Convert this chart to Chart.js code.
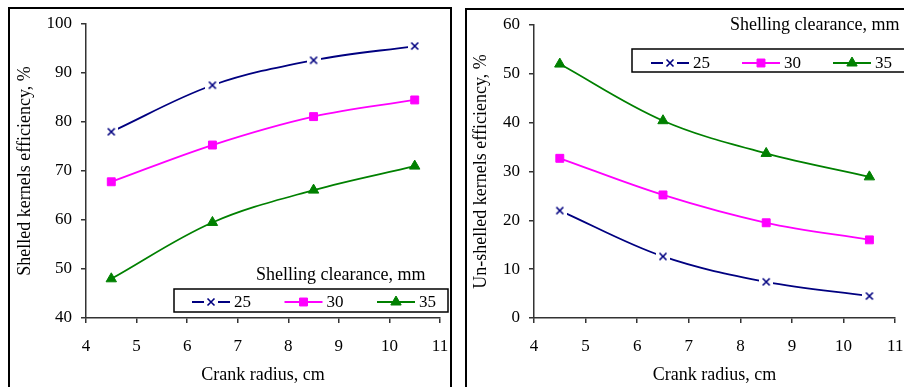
<!DOCTYPE html>
<html>
<head>
<meta charset="utf-8">
<script src="https://cdn.jsdelivr.net/npm/chart.js@4/dist/chart.umd.min.js"></script>
<style>
  html, body { margin: 0; padding: 0; background: #fff; }
  body { width: 904px; height: 387px; overflow: hidden; position: relative; }
  .panel { position: absolute; border: 2px solid #000; box-sizing: border-box; }
  canvas { position: absolute; left: 0; top: 0; }
</style>
</head>
<body>
<div class="panel" style="left:8px;top:7px;width:444px;height:400px"></div>
<div class="panel" style="left:465px;top:8px;width:460px;height:400px"></div>
<div style="position:absolute;left:8px;top:7px;width:443px;height:380px"><canvas id="shelled" width="443" height="380"></canvas></div>
<div style="position:absolute;left:465px;top:8px;width:439px;height:379px"><canvas id="unshelled" width="439" height="379"></canvas></div>

<script>
// Crank radius (cm) at which each clearance was tested
const crankRadius = [4.5, 6.5, 8.5, 10.5];
// Shelling clearance, mm
const clearances = ['25', '30', '35'];

// Shelled kernels efficiency, %
const shelled25 = [78.0, 87.5, 92.6, 95.5];
const shelled30 = [67.8, 75.3, 81.1, 84.5];
const shelled35 = [48.0, 59.5, 66.1, 71.0];

// Un-shelled kernels efficiency, %
const unshelled25 = [22.0, 12.6, 7.4, 4.5];
const unshelled30 = [32.7, 25.2, 19.5, 16.0];
const unshelled35 = [52.0, 40.4, 33.7, 28.9];

// Axis ticks
const radiusTicks = [4, 5, 6, 7, 8, 9, 10, 11];
const shelledTicks = [40, 50, 60, 70, 80, 90, 100];
const unshelledTicks = [0, 10, 20, 30, 40, 50, 60];

const NAVY = '#000080', MAGENTA = '#FF00FF', GREEN = '#008000';
const FAMILY = '"Liberation Serif", "Times New Roman", serif';
const tickFont = { family: FAMILY, size: 17 };
const titleFont = { family: FAMILY, size: 18 };

// "x" marker on a white square so the line stops short of it
function crossMarker() {
  const c = document.createElement('canvas');
  c.width = 14; c.height = 14;
  const g = c.getContext('2d');
  g.fillStyle = '#fff';
  g.fillRect(0, 0, 14, 14);
  g.strokeStyle = NAVY;
  g.lineWidth = 1.6;
  g.beginPath();
  g.moveTo(3.5, 3.5); g.lineTo(10.5, 10.5);
  g.moveTo(10.5, 3.5); g.lineTo(3.5, 10.5);
  g.stroke();
  return c;
}
const xMark = crossMarker();

function points(values) {
  return crankRadius.map((x, i) => ({ x, y: values[i] }));
}

function datasets(v25, v30, v35) {
  const common = { borderWidth: 1.8, tension: 0.35, fill: false };
  return [
    Object.assign({ label: clearances[0], data: points(v25), borderColor: NAVY, backgroundColor: NAVY,
      pointStyle: xMark, pointRadius: 7 }, common),
    Object.assign({ label: clearances[1], data: points(v30), borderColor: MAGENTA, backgroundColor: MAGENTA,
      pointStyle: 'rect', pointRadius: 5.6, pointBorderWidth: 1 }, common),
    Object.assign({ label: clearances[2], data: points(v35), borderColor: GREEN, backgroundColor: GREEN,
      pointStyle: 'triangle', pointRadius: 6, pointBorderWidth: 1 }, common)
  ];
}

function drawMarker(ctx, ds, x, y) {
  const st = ds.pointStyle;
  ctx.save();
  ctx.fillStyle = ds.backgroundColor;
  ctx.strokeStyle = ds.borderColor;
  ctx.lineWidth = 1;
  if (st instanceof HTMLCanvasElement) {
    ctx.drawImage(st, x - st.width / 2, y - st.height / 2);
  } else if (st === 'rect') {
    const s = ds.pointRadius * Math.SQRT1_2;
    ctx.beginPath(); ctx.rect(x - s, y - s, 2 * s, 2 * s); ctx.fill(); ctx.stroke();
  } else if (st === 'triangle') {
    const r = ds.pointRadius;
    ctx.beginPath();
    for (let k = 0; k < 3; k++) {
      const a = k * 2 * Math.PI / 3;
      const px = x + Math.sin(a) * r, py = y - Math.cos(a) * r;
      if (k === 0) ctx.moveTo(px, py); else ctx.lineTo(px, py);
    }
    ctx.closePath(); ctx.fill(); ctx.stroke();
  }
  ctx.restore();
}

// Framed legend with its heading above it
const boxLegend = {
  id: 'boxLegend',
  afterDraw(chart, args, o) {
    const ctx = chart.ctx;
    ctx.save();
    ctx.fillStyle = '#000';
    ctx.textBaseline = 'middle';
    ctx.textAlign = 'left';
    ctx.font = '18px ' + FAMILY;
    ctx.fillText(o.title, o.titleX, o.titleY);
    ctx.strokeStyle = '#000';
    ctx.lineWidth = 1.5;
    ctx.strokeRect(o.x, o.y, o.w, o.h);
    ctx.font = '17px ' + FAMILY;
    chart.data.datasets.forEach((ds, i) => {
      const sx = o.itemX + i * o.itemGap, cy = o.itemY;
      ctx.strokeStyle = ds.borderColor;
      ctx.lineWidth = ds.borderWidth;
      ctx.beginPath(); ctx.moveTo(sx, cy); ctx.lineTo(sx + 38, cy); ctx.stroke();
      drawMarker(ctx, ds, sx + 19, cy);
      ctx.fillStyle = '#000';
      ctx.fillText(ds.label, sx + 42, cy + 1);
    });
    ctx.restore();
  }
};

function xAxis(height) {
  return {
    type: 'linear', min: 4, max: 11,
    afterBuildTicks: s => { s.ticks = radiusTicks.map(v => ({ value: v })); },
    // fixed axis band; end labels may overhang the plot edges
    afterFit: s => { s.height = height; s.paddingLeft = 0; s.paddingRight = 0; },
    grid: { drawOnChartArea: false, drawTicks: true, tickLength: 5, color: '#333', lineWidth: 1.5 },
    border: { display: true, color: '#333', width: 1.5 },
    ticks: { font: tickFont, color: '#000', padding: 13, maxRotation: 0, autoSkip: false },
    title: { display: true, text: 'Crank radius, cm', font: titleFont, color: '#000', padding: { top: 0, bottom: 1 } }
  };
}

function yAxis(ticks, width, title) {
  return {
    type: 'linear', min: ticks[0], max: ticks[ticks.length - 1],
    afterBuildTicks: s => { s.ticks = ticks.map(v => ({ value: v })); },
    afterFit: s => { s.width = width; s.paddingTop = 0; s.paddingBottom = 0; },
    grid: { drawOnChartArea: false, drawTicks: true, tickLength: 5, color: '#333', lineWidth: 1.5 },
    border: { display: true, color: '#333', width: 1.5 },
    ticks: { font: tickFont, color: '#000', padding: 9, autoSkip: false },
    title: { display: true, text: title, font: titleFont, color: '#000', padding: 0 }
  };
}

function makeChart(id, ds, yTicks, yWidth, yTitle, padding, legendOpts) {
  return new Chart(document.getElementById(id), {
    type: 'line',
    data: { datasets: ds },
    options: {
      responsive: false,
      animation: false,
      layout: { padding },
      scales: { x: xAxis(69), y: yAxis(yTicks, yWidth, yTitle) },
      plugins: { legend: { display: false }, tooltip: { enabled: false }, boxLegend: legendOpts }
    },
    plugins: [boxLegend]
  });
}

makeChart('shelled', datasets(shelled25, shelled30, shelled35), shelledTicks, 72,
  'Shelled kernels efficiency, %',
  { left: 6, top: 17, right: 11, bottom: 0 },
  { title: 'Shelling clearance, mm', titleX: 248, titleY: 268,
    x: 166, y: 282, w: 274, h: 23, itemX: 184, itemY: 295, itemGap: 92.5 });

makeChart('unshelled', datasets(unshelled25, unshelled30, unshelled35), unshelledTicks, 64,
  'Un-shelled kernels efficiency, %',
  { left: 5, top: 17, right: 7, bottom: 0 },
  { title: 'Shelling clearance, mm', titleX: 265, titleY: 17,
    x: 167, y: 41, w: 290, h: 23, itemX: 186, itemY: 55, itemGap: 91 });
</script>
</body>
</html>
